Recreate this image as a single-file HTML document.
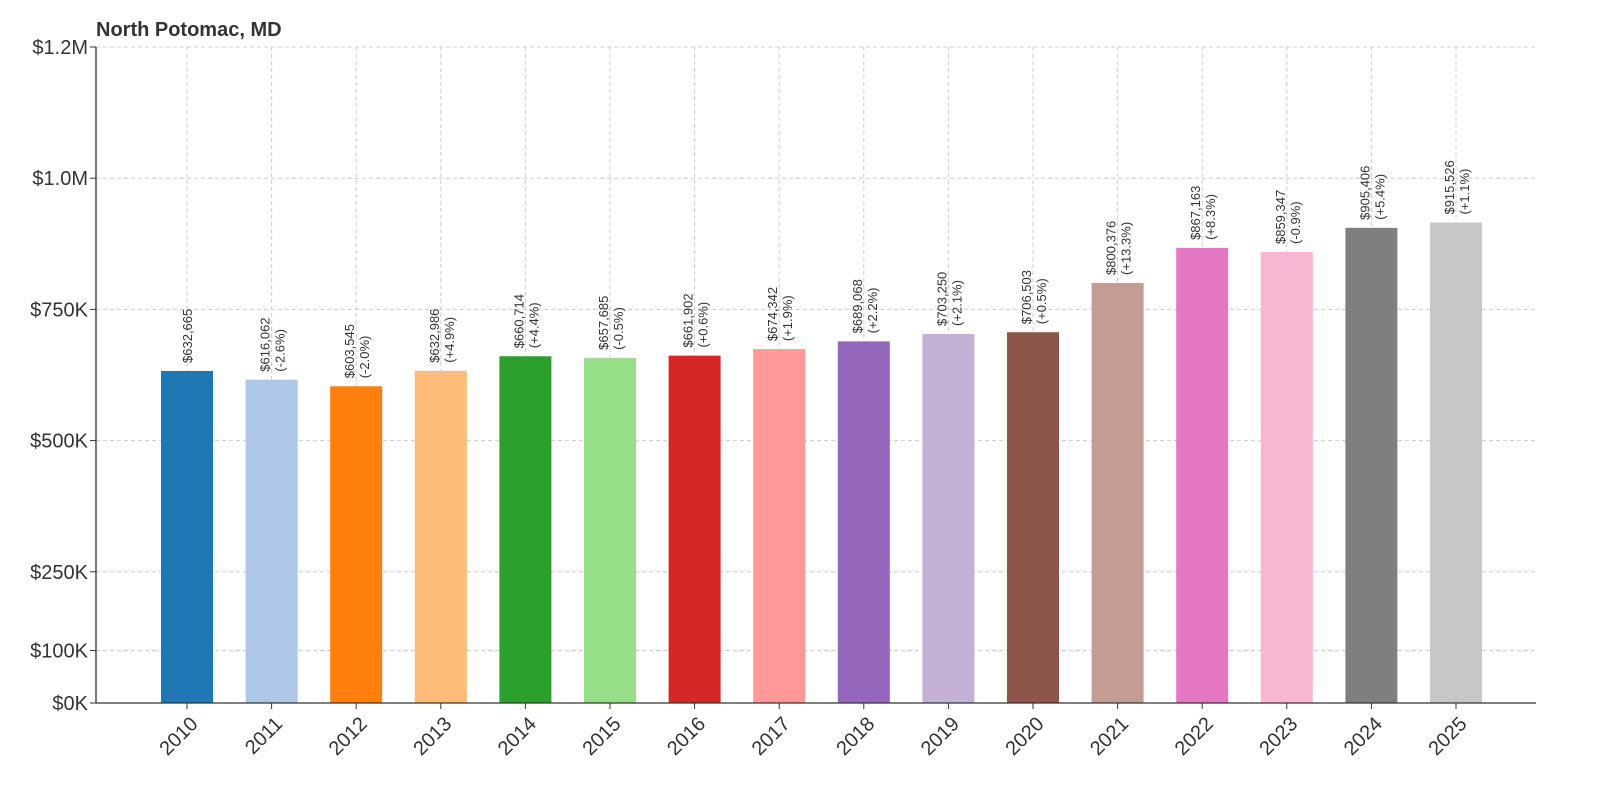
<!DOCTYPE html>
<html><head><meta charset="utf-8"><style>
body{margin:0;background:#fff;font-family:"Liberation Sans","DejaVu Sans",sans-serif}
</style></head><body>
<svg id="chart" width="1600" height="800" xmlns="http://www.w3.org/2000/svg"></svg>
<script>
const years=["2010","2011","2012","2013","2014","2015","2016","2017","2018","2019","2020","2021","2022","2023","2024","2025"];
const values=[632665,616062,603545,632986,660714,657685,661902,674342,689068,703250,706503,800376,867163,859347,905406,915526];
const changes=["","(-2.6%)","(-2.0%)","(+4.9%)","(+4.4%)","(-0.5%)","(+0.6%)","(+1.9%)","(+2.2%)","(+2.1%)","(+0.5%)","(+13.3%)","(+8.3%)","(-0.9%)","(+5.4%)","(+1.1%)"];
const tickValues=[0,100000,250000,500000,750000,1000000,1250000];
const tickLabels=["$0K","$100K","$250K","$500K","$750K","$1.0M","$1.2M"];
const colors=["#1f77b4","#aec7e8","#ff7f0e","#ffbb78","#2ca02c","#98df8a","#d62728","#ff9896","#9467bd","#c5b0d5","#8c564b","#c49c94","#e377c2","#f7b6d2","#7f7f7f","#c7c7c7"];
const NS="http://www.w3.org/2000/svg";
const svg=document.getElementById('chart');
const x0=96,x1=1536,y0=703,yTop=47,vmax=1250000;
const y=v=>y0-(v/vmax)*(y0-yTop);
const step=(1456-187)/15;
const x=i=>187+i*step;
const bw=52;
function mk(tag,attrs,txt){const e=document.createElementNS(NS,tag);for(const k in attrs)e.setAttribute(k,attrs[k]);if(txt!==undefined)e.textContent=txt;svg.appendChild(e);return e;}
const t=mk('text',{x:96,y:36,'font-size':20,'font-weight':'bold',fill:'#333'},"North Potomac, MD");


tickValues.forEach((v,i)=>{
  const g=mk('line',{x1:x0,x2:x1,y1:y(v),y2:y(v),stroke:'#ccc','stroke-dasharray':'4,3','stroke-width':1});
  
  
  const tk=mk('line',{x1:x0-6,x2:x0,y1:y(v),y2:y(v),stroke:'#333'});
  
  
  const l=mk('text',{x:x0-8,y:y(v)+7,'text-anchor':'end','font-size':20,fill:'#333'},tickLabels[i]);
  
  
});
years.forEach((yr,i)=>{
  const g=mk('line',{x1:x(i),x2:x(i),y1:yTop,y2:y0,stroke:'#ccc','stroke-dasharray':'4,3','stroke-width':1});
  
  
});
years.forEach((yr,i)=>{
  const b=mk('rect',{x:x(i)-bw/2,y:y(values[i]),width:bw,height:y0-y(values[i]),fill:colors[i]});
  
  
  const top=y(values[i])-8;
  const lbl="$"+values[i].toLocaleString('en-US');
  const hasChg=changes[i]!=="";
  const cx=hasChg?x(i)-2:x(i)+5;
  const v=mk('text',{x:cx,y:top,'font-size':13,fill:'#333',transform:`rotate(-90 ${cx} ${top})`},lbl);
  
  
  if(hasChg){
    const cx2=x(i)+13;
    const c=mk('text',{x:cx2,y:top,'font-size':13,fill:'#333',transform:`rotate(-90 ${cx2} ${top})`},changes[i]);
    
    
  }
  const tk=mk('line',{x1:x(i),x2:x(i),y1:y0,y2:y0+6,stroke:'#333'});
  
  
  const lx=x(i)+12,ly=y0+22;
  const xl=mk('text',{x:lx,y:ly,'font-size':20,fill:'#333','text-anchor':'end',transform:`rotate(-45 ${lx} ${ly})`},yr);
  
  
});
const ya=mk('line',{x1:x0,x2:x0,y1:yTop,y2:y0,stroke:'#333','stroke-width':1.3});


const xa=mk('line',{x1:x0,x2:x1,y1:y0,y2:y0,stroke:'#333','stroke-width':1.3});


</script>
</body></html>
